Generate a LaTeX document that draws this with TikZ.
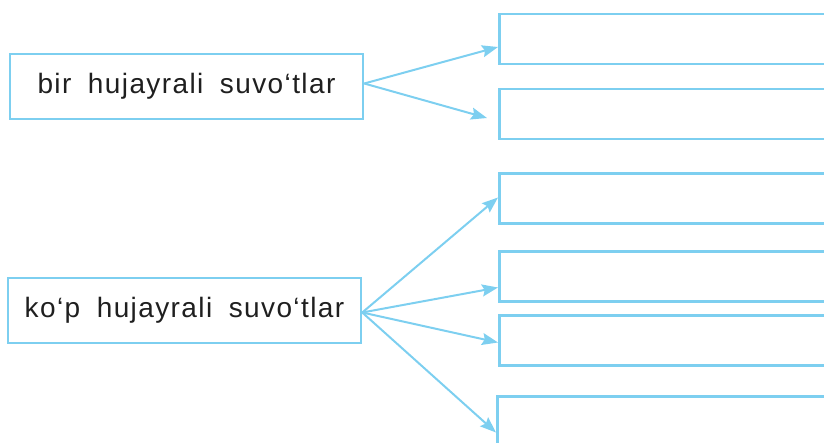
\documentclass[tikz,border=0pt]{standalone}
\usepackage{fontspec}
\setmainfont{Liberation Sans}[LetterSpace=5,WordSpace=1.8]
\usetikzlibrary{arrows.meta}
\definecolor{bleu}{rgb}{0.49,0.81,0.94}
\definecolor{encre}{rgb}{0.12,0.12,0.12}

\begin{document}
\begin{tikzpicture}[x=1pt, y=-1pt]
  \tikzstyle{groupe}=[rectangle, draw=bleu, line width=2.5pt, minimum width=353pt, minimum height=65pt, inner sep=0pt, text=encre, font=\fontsize{28}{32}\selectfont]
  \tikzstyle{vide}=[rectangle, draw=bleu, line width=2.5pt, minimum width=340pt, minimum height=50pt, anchor=west]
  \tikzstyle{fleche}=[-{Stealth[length=16pt, width=12pt, inset=2.5pt]}, draw=bleu, fill=bleu, line width=2pt]

  \clip (0,0) rectangle (824,443);

	\node[groupe] (G1) at (186.5,86.5) {bir hujayrali suvo‘tlar};
	\node[groupe] (G2) at (184.5,310.5) {ko‘p hujayrali suvo‘tlar};

	\node[vide] (R1) at (498,39) {};
	\node[vide] (R2) at (498,114) {};
	\node[vide] (R3) at (498,198.5) {};
	\node[vide] (R4) at (498,276.5) {};
	\node[vide] (R5) at (498,340.5) {};
	\node[vide] (R6) at (496,421.5) {};

	\path
		([yshift=3pt]G1.east) edge[fleche] ([yshift=-8pt]R1.west)
		([yshift=3pt]G1.east) edge[fleche] ([xshift=-11pt, yshift=-4pt]R2.west)
		([yshift=-2pt]G2.east) edge[fleche] ([yshift=1pt]R3.west)
		([yshift=-2pt]G2.east) edge[fleche] ([yshift=-11pt]R4.west)
		([yshift=-2pt]G2.east) edge[fleche] ([yshift=-2pt]R5.west)
		([yshift=-2pt]G2.east) edge[fleche] ([yshift=-11pt]R6.west)
		;

\end{tikzpicture}
\end{document}
